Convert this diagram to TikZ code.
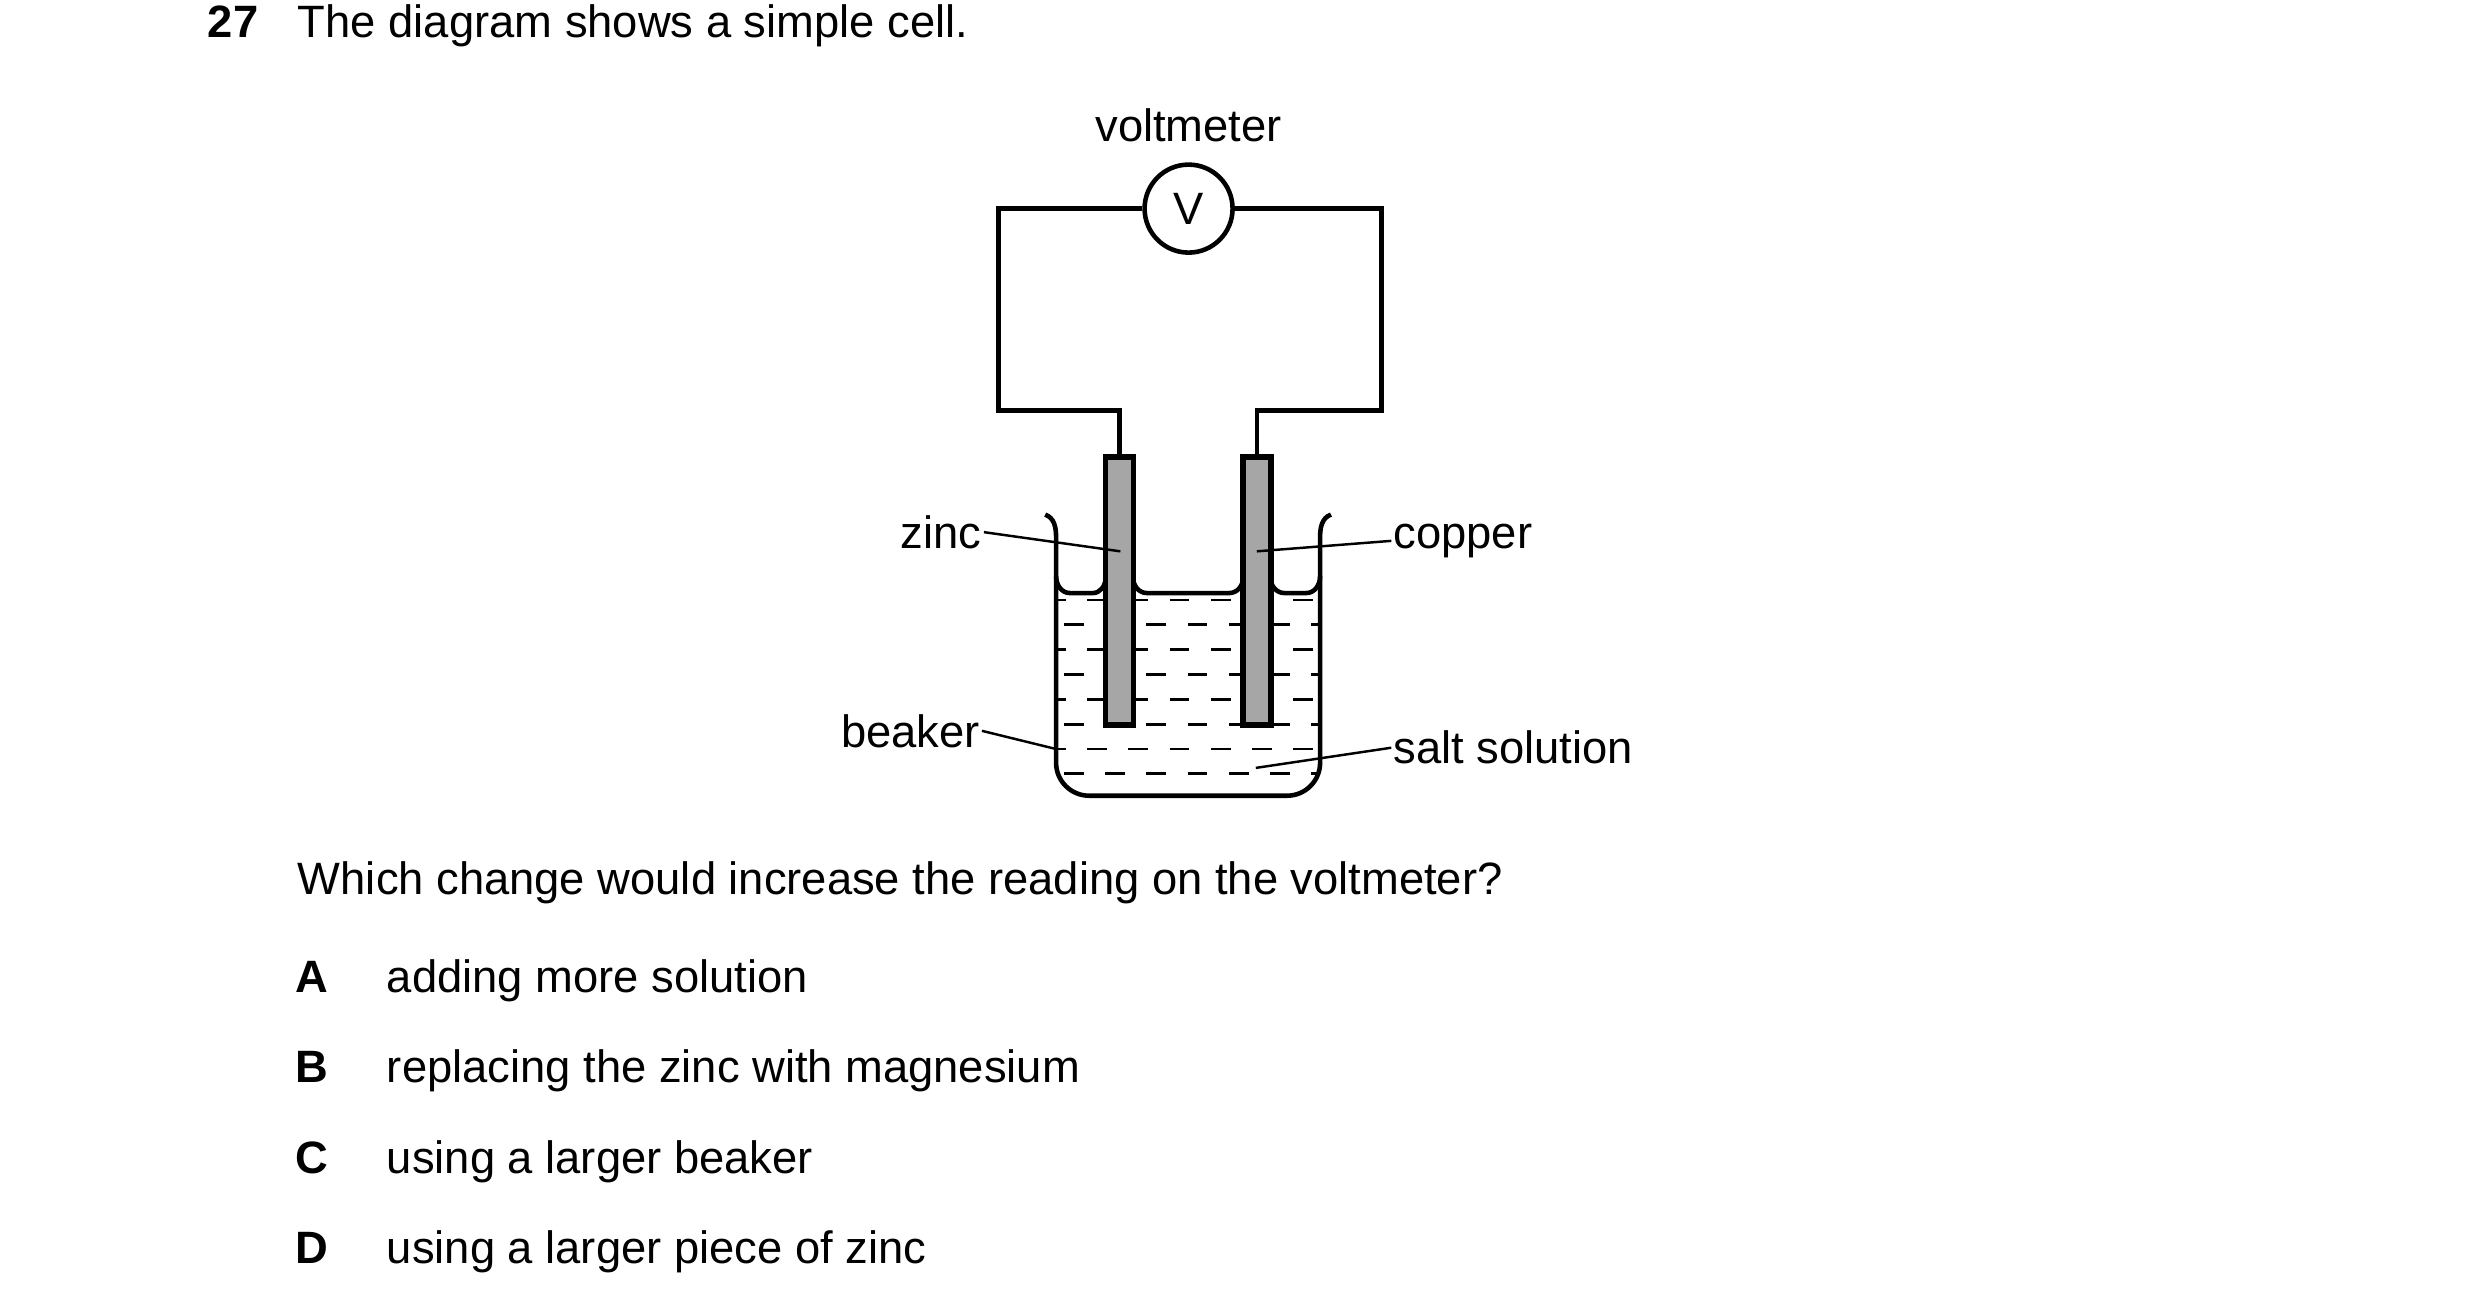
\documentclass[tikz,border=0pt]{standalone}
\usepackage{fontspec}
\setmainfont{Liberation Sans}
\begin{document}
\begin{tikzpicture}[x=0.00989cm,y=-0.00994cm,line width=1.3pt]

     \tikzstyle{txt}=[inner sep=0pt,font=\fontsize{12.9}{15}\selectfont]
     \tikzstyle{rod}=[draw=black,fill=black!35,line width=1.6pt,minimum width=0.28cm,minimum height=2.68cm,inner sep=0pt]
     \tikzstyle{lead}=[line width=0.7pt]

      \useasboundingbox (0,0) rectangle (2508,1321);

      \begin{scope}
         % question
         \node[txt,anchor=base west,font=\fontsize{12.9}{15}\selectfont\bfseries] (num) at (208,38) {27};
         \node[txt,anchor=base west] (q) at (299,38) {The diagram shows a simple cell.};

         % circuit
         \node[circle,draw,minimum size=0.88cm,inner sep=0pt,txt] (V) at (1202,210) {V};
         \node[txt,anchor=base] (vlab) at (1202,142) {voltmeter};
         \coordinate (tl) at (1010,210);
         \coordinate (tr) at (1397,210);

         \begin{scope}[shift={(13,4)}]
         \node[rod] (zn) at (1119,591) {};
         \node[rod] (cu) at (1258,591) {};

         % beaker
         \draw (1044,514) to[out=-20,in=90] (1055,537)
               [rounded corners=0.33cm] -- (1055,797) -- (1322,797)
               [sharp corners] -- (1322,537) to[out=90,in=200] (1333,514);
         \draw (1055,576) to[out=-90,in=180] (1069,593) -- (1092,593) to[out=0,in=-90] (1105,578);
         \draw (1133,578) to[out=-90,in=180] (1147,593) -- (1230,593) to[out=0,in=-90] (1244,578);
         \draw (1272,578) to[out=-90,in=180] (1286,593) -- (1308,593) to[out=0,in=-90] (1322,576);

         % solution
         \begin{scope}
            \clip (1057,596) rectangle (1320,795);
            \foreach \k in {0,...,7} {
               \pgfmathsetmacro{\yy}{600+25*\k}
               \pgfmathsetmacro{\xo}{mod(\k,2)==0 ? 1003 : 1063}
               \foreach \j in {0,...,7}
                  \draw[line width=0.8pt] (\xo+41.7*\j,\yy) -- ++(20,0);
            }
         \end{scope}
         \node[rod] (zn2) at (1119,591) {};
         \node[rod] (cu2) at (1258,591) {};

         \coordinate (zp) at (1120,551);
         \coordinate (cp) at (1258,551);
         \coordinate (bp) at (1055,750);
         \coordinate (sp) at (1257,769);
         \end{scope}

         \draw (V.west) -- (tl) |- (zn.north |- 0,413) -- (zn.north);
         \draw (V.east) -- (tr) |- (cu.north |- 0,413) -- (cu.north);

         % labels
         \node[txt,anchor=base east] (zl) at (995,552) {zinc};
         \node[txt,anchor=base west] (cl) at (1407,552) {copper};
         \node[txt,anchor=base east] (bl) at (993,752) {beaker};
         \node[txt,anchor=base west] (sl) at (1407,769) {salt solution};
         \draw[lead] (zl.east) -- (zp);
         \draw[lead] (cl.west) -- (cp);
         \draw[lead] (bl.east) -- (bp);
         \draw[lead] (sl.west) -- (sp);

         % options
         \node[txt,anchor=base west] (ask) at (299,900) {Which change would increase the reading on the voltmeter?};
         \foreach \L/\T/\yy in {A/adding more solution/999,B/replacing the zinc with magnesium/1090,C/using a larger beaker/1181,D/using a larger piece of zinc/1272} {
            \node[txt,anchor=base,font=\fontsize{12.9}{15}\selectfont\bfseries] (opt\L) at (315,\yy) {\L};
            \node[txt,anchor=base west] (ans\L) at (389,\yy) {\T};
         }
      \end{scope}
  \end{tikzpicture}
\end{document}
